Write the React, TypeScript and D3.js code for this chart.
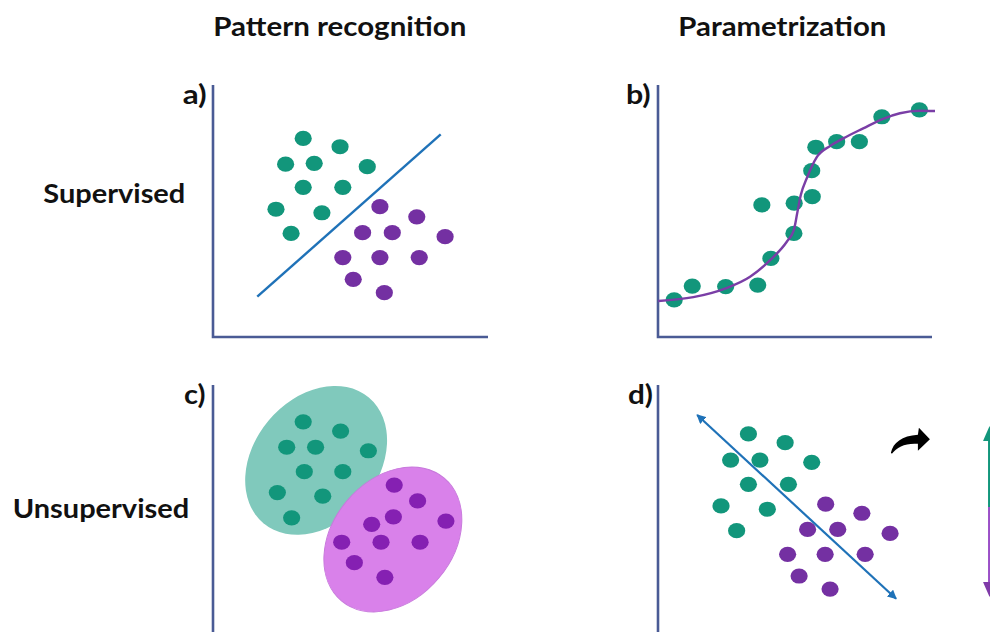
import React from "react";
import * as d3 from "d3";

// ---- data (unit space 0–100 on both axes of every panel) ----
// panel a: labelled classes separated by a linear boundary
const aTeal: [number, number][] = [
  [32.8, 78.8], [46.2, 75.5], [26.4, 68.6], [36.8, 68.9], [56.1, 67.6],
  [32.8, 59.4], [47.2, 59.4], [22.9, 50.7], [39.6, 49.3], [28.4, 41.1],
];
const aPurple: [number, number][] = [
  [60.7, 51.7], [74.1, 47.7], [54.4, 41.4], [65.2, 41.4], [84.4, 39.8],
  [47.2, 31.5], [60.7, 31.5], [75.0, 31.5], [51.0, 22.9], [62.3, 17.6],
];
const aBoundary: [number, number][] = [[16.1, 16.0], [82.8, 80.4]];

// panel b: observations and the fitted sigmoid
const bPoints: [number, number][] = [
  [5.9, 14.7], [12.5, 20.2], [24.7, 20.0], [36.4, 20.6], [41.2, 31.2],
  [49.6, 41.1], [37.9, 52.4], [49.7, 53.1], [56.3, 55.7], [56.1, 66.0],
  [57.6, 75.3], [65.2, 77.5], [73.5, 77.5], [81.7, 87.4], [95.4, 90.1],
];
const bFit: [number, number][] = [
  [0.1, 14.3], [12.9, 15.8], [24.7, 19.3], [33.6, 23.9], [41.2, 30.8],
  [47.0, 37.8], [49.6, 42.5], [50.8, 49.1], [52.1, 56.3], [54.3, 63.0],
  [57.9, 71.3], [62.8, 75.8], [67.6, 78.8], [74.9, 82.8], [81.7, 86.4],
  [88.3, 88.8], [95.4, 89.8], [101.1, 89.7],
];

// panel c: unlabelled clusters with their enclosing ellipses
const cTeal: [number, number][] = [
  [32.8, 85.4], [46.4, 81.7], [26.8, 75.3], [37.3, 75.3], [56.5, 73.9],
  [33.2, 65.6], [47.2, 65.6], [23.4, 57.3], [39.9, 55.9], [28.6, 47.3],
];
const cPurple: [number, number][] = [
  [65.9, 60.3], [74.4, 54.0], [65.6, 47.7], [84.7, 46.0], [57.7, 44.7],
  [46.8, 37.6], [61.1, 37.6], [75.3, 37.6], [51.4, 29.5], [62.5, 23.7],
];
const cClusterCenters: [number, number][] = [[37.5, 70.1], [65.4, 38.7]];

// panel d: points and the projection direction
const dTeal: [number, number][] = [
  [33.0, 80.6], [46.4, 77.1], [26.5, 70.2], [37.2, 70.2], [56.1, 69.3],
  [33.0, 60.6], [47.6, 60.6], [23.0, 52.0], [39.9, 50.7], [28.7, 42.2],
];
const dPurple: [number, number][] = [
  [61.2, 52.7], [74.4, 49.1], [54.6, 42.7], [65.6, 42.7], [84.7, 41.1],
  [47.3, 32.8], [61.0, 32.8], [75.6, 32.8], [51.5, 24.2], [62.8, 19.0],
];
const dDirection: [number, number][] = [[14.3, 88.1], [86.9, 15.2]];
// projected axis on the right: [top, split, bottom] and its x position
const dProjection = [82.9, 51.6, 16.7];
const dProjectionX = 121.0;
const dTurnArrowAt: [number, number] = [85.0, 73.1];

const columnTitles = ["Pattern recognition", "Parametrization"];
const rowTitles = ["Supervised", "Unsupervised"];
const panelTags = ["a)", "b)", "c)", "d)"];

// ---- styling ----
const TEAL = "#12967b";
const PURPLE = "#7430a2";
const PURPLE_C = "#8520b2";
const AXIS = "#4a5b95";
const BLUE = "#1f72b8";
const CURVE = "#7a3ea6";
const FONT = "Lato, 'Open Sans', 'DejaVu Sans', sans-serif";

const W = 990;
const H = 632;

// scales for the left and right column, top and bottom row
const xL = d3.scaleLinear().domain([0, 100]).range([213, 488]);
const xR = d3.scaleLinear().domain([0, 100]).range([658, 932]);
const yT = d3.scaleLinear().domain([0, 100]).range([337, 85]);
const yB = d3.scaleLinear().domain([0, 100]).range([637, 385]);

type Sx = d3.ScaleLinear<number, number>;

function Dots({ pts, x, y, fill }: { pts: [number, number][]; x: Sx; y: Sx; fill: string }) {
  return (
    <g>
      {pts.map((p, i) => (
        <ellipse key={i} cx={x(p[0])} cy={y(p[1])} rx={8.6} ry={7.6} fill={fill} />
      ))}
    </g>
  );
}

function Axes({ x, y, bottom }: { x: Sx; y: Sx; bottom: boolean }) {
  const d = bottom
    ? `M${x(0)},${y(100)}V${y(0)}H${x(100)}`
    : `M${x(0)},${y(100)}V${y(0)}`;
  return <path d={d} fill="none" stroke={AXIS} strokeWidth={2.6} />;
}

export default function App() {
  const fitLine = d3
    .line<[number, number]>()
    .x((d) => xR(d[0]))
    .y((d) => yT(d[1]))
    .curve(d3.curveMonotoneX);
  const straight = (x: Sx, y: Sx) =>
    d3.line<[number, number]>().x((d) => x(d[0])).y((d) => y(d[1]));

  const px = xR(dProjectionX);
  const [pTop, pMid, pBot] = dProjection.map((v) => yB(v));
  const tx = xR(dTurnArrowAt[0]);
  const ty = yB(dTurnArrowAt[1]);

  const titleStyle = {
    fontFamily: FONT,
    fontWeight: 700,
    fontSize: 26,
    fill: "#111",
  } as const;

  return (
    <div style={{ position: "absolute", left: 0, top: 0, width: W, height: H, overflow: "hidden", background: "#fff" }}>
      <svg width={W} height={H} viewBox={`0 0 ${W} ${H}`} style={{ display: "block" }}>
        <defs>
          <marker id="hd" viewBox="0 0 10 10" refX={9} refY={5} markerWidth={4.2} markerHeight={4.2} orient="auto-start-reverse">
            <path d="M0,0L10,5L0,10Z" fill={BLUE} />
          </marker>
        </defs>
        <rect width={W} height={H} fill="#fff" />

        {/* column and row headings */}
        <text x={213.3} y={36} textLength={253} lengthAdjust="spacingAndGlyphs" {...titleStyle}>{columnTitles[0]}</text>
        <text x={678.3} y={36} textLength={208} lengthAdjust="spacingAndGlyphs" {...titleStyle}>{columnTitles[1]}</text>
        <text x={43.3} y={203} textLength={142} lengthAdjust="spacingAndGlyphs" {...titleStyle}>{rowTitles[0]}</text>
        <text x={12.7} y={518} textLength={176.5} lengthAdjust="spacingAndGlyphs" {...titleStyle}>{rowTitles[1]}</text>

        {/* panel tags */}
        <text x={182.7} y={104} textLength={24} lengthAdjust="spacingAndGlyphs" {...titleStyle}>{panelTags[0]}</text>
        <text x={626} y={104} textLength={24.7} lengthAdjust="spacingAndGlyphs" {...titleStyle}>{panelTags[1]}</text>
        <text x={184} y={404} textLength={21.5} lengthAdjust="spacingAndGlyphs" {...titleStyle}>{panelTags[2]}</text>
        <text x={628} y={404} textLength={25} lengthAdjust="spacingAndGlyphs" {...titleStyle}>{panelTags[3]}</text>

        {/* a) supervised classification */}
        <Axes x={xL} y={yT} bottom />
        <Dots pts={aTeal} x={xL} y={yT} fill={TEAL} />
        <Dots pts={aPurple} x={xL} y={yT} fill={PURPLE} />
        <path d={straight(xL, yT)(aBoundary) || ""} stroke={BLUE} strokeWidth={2.4} fill="none" />

        {/* b) parametric regression */}
        <Axes x={xR} y={yT} bottom />
        <Dots pts={bPoints} x={xR} y={yT} fill={TEAL} />
        <path d={fitLine(bFit) || ""} stroke={CURVE} strokeWidth={2.4} fill="none" />

        {/* c) clustering */}
        <Axes x={xL} y={yB} bottom={false} />
        <ellipse
          cx={0}
          cy={0}
          rx={82}
          ry={62}
          fill="#80c9bc"
          transform={`translate(${xL(cClusterCenters[0][0])},${yB(cClusterCenters[0][1])}) rotate(-50)`}
        />
        <ellipse
          cx={0}
          cy={0}
          rx={80}
          ry={60}
          fill="#d981ea"
          stroke="#c879dc"
          strokeWidth={1}
          transform={`translate(${xL(cClusterCenters[1][0])},${yB(cClusterCenters[1][1])}) rotate(-50)`}
        />
        <Dots pts={cTeal} x={xL} y={yB} fill={TEAL} />
        <Dots pts={cPurple} x={xL} y={yB} fill={PURPLE_C} />

        {/* d) dimensionality reduction */}
        <Axes x={xR} y={yB} bottom={false} />
        <Dots pts={dTeal} x={xR} y={yB} fill={TEAL} />
        <Dots pts={dPurple} x={xR} y={yB} fill={PURPLE} />
        <path
          d={straight(xR, yB)(dDirection) || ""}
          stroke={BLUE}
          strokeWidth={2.2}
          fill="none"
          markerStart="url(#hd)"
          markerEnd="url(#hd)"
        />

        {/* turn arrow */}
        <path
          transform={`translate(${tx},${ty})`}
          d="M0,0 C2,-10 11,-17 27,-18 L28,-25 L39,-13.5 L27,-2 L27,-9 C15,-10 6,-6 1,1 Z"
          fill="#000"
        />

        {/* projected axis */}
        <line x1={px} x2={px} y1={pTop + 12} y2={pMid} stroke={TEAL} strokeWidth={3} />
        <line x1={px} x2={px} y1={pMid} y2={pBot - 12} stroke="#9b4fc7" strokeWidth={3} />
        <path d={`M${px},${pTop - 2}L${px - 6.5},${pTop + 13}L${px + 6.5},${pTop + 13}Z`} fill={TEAL} />
        <path d={`M${px},${pBot + 2}L${px - 6.5},${pBot - 13}L${px + 6.5},${pBot - 13}Z`} fill="#7f3aa8" />
      </svg>
    </div>
  );
}
